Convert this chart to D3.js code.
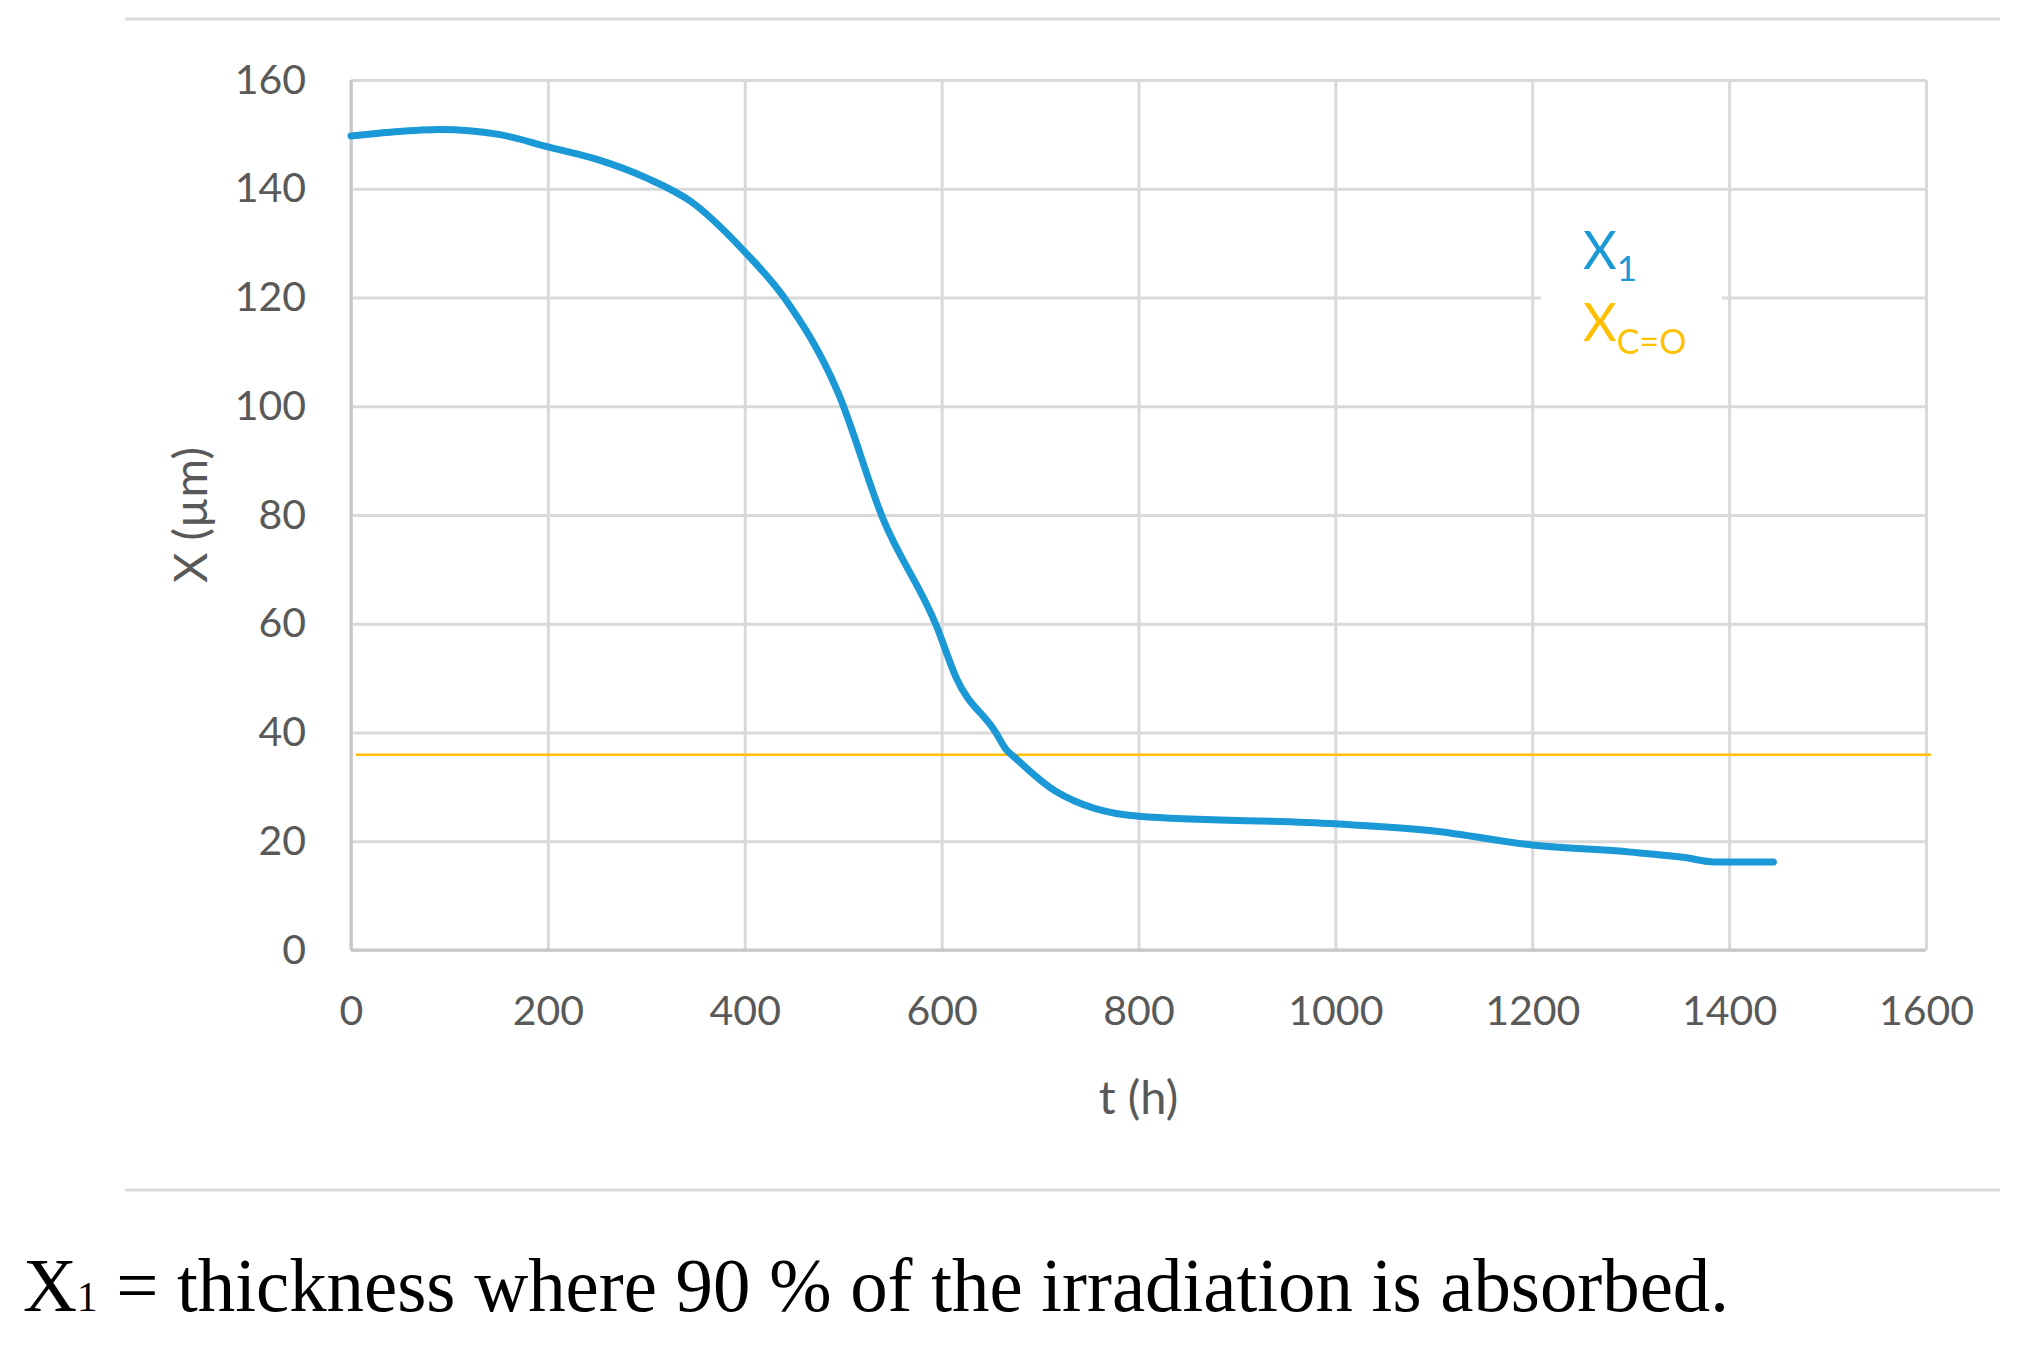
<!DOCTYPE html>
<html>
<head>
<meta charset="utf-8">
<script src="https://cdn.jsdelivr.net/npm/d3@7"></script>
<style>
  html, body { margin: 0; padding: 0; background: #fff; }
  .tick text { font-family: Lato, "Open Sans", sans-serif; fill: #595959; }
</style>
</head>
<body>
<div id="chart"></div>
<script>
// X1 curve (t in hours, X in µm)
var tHours = [0, 40, 90, 150, 200, 250, 300, 345, 400, 440, 495, 540, 595, 615, 655, 665, 675, 715, 800, 1000, 1100, 1200, 1300, 1355, 1385, 1445];
var x1Values = [149.7, 150.4, 150.9, 150, 147.7, 145.4, 142, 137.7, 128.4, 120, 102.4, 79.5, 59.5, 50, 40, 37, 35.3, 29.3, 24.6, 23.2, 21.9, 19.3, 18, 17, 16.2, 16.2];

// X C=O level
var tCO = [5, 1605];
var xCOValues = [35.9, 35.9];

var xTicks = [0, 200, 400, 600, 800, 1000, 1200, 1400, 1600];
var yTicks = [0, 20, 40, 60, 80, 100, 120, 140, 160];

var W = 2035, H = 1350;
var margin = {top: 80, right: W - 1926, bottom: H - 950, left: 351};
var width = W - margin.left - margin.right;
var height = H - margin.top - margin.bottom;

var blue = "#1b98d6", yellow = "#ffc000", grid = "#d9d9d9", txt = "#595959";

var svg = d3.select("#chart").append("svg")
	.attr("width", W)
	.attr("height", H);

// frame rules above and below the chart
svg.append("line").attr("x1", 125).attr("x2", 2000).attr("y1", 19).attr("y2", 19)
	.attr("stroke", "#dcdcdc").attr("stroke-width", 3);
svg.append("line").attr("x1", 125).attr("x2", 2000).attr("y1", 1190).attr("y2", 1190)
	.attr("stroke", "#dcdcdc").attr("stroke-width", 3);

var g = svg.append("g")
	.attr("transform", "translate(" + margin.left + "," + margin.top + ")");

var x = d3.scaleLinear().domain([0, 1600]).range([0, width]);
var y = d3.scaleLinear().domain([0, 160]).range([height, 0]);

// grid
g.append("g")
	.attr("transform", "translate(0," + height + ")")
	.call(d3.axisBottom(x).tickValues(xTicks).tickSize(-height).tickFormat(""))
	.call(function(s) { s.select(".domain").remove(); })
	.selectAll("line").attr("stroke", grid).attr("stroke-width", 3);

g.append("g")
	.call(d3.axisLeft(y).tickValues(yTicks).tickSize(-width).tickFormat(""))
	.call(function(s) { s.select(".domain").remove(); })
	.selectAll("line").attr("stroke", grid).attr("stroke-width", 3);

// axis lines
g.append("line").attr("x1", 0).attr("x2", 0).attr("y1", 0).attr("y2", height)
	.attr("stroke", "#c8c8c8").attr("stroke-width", 3);
g.append("line").attr("x1", 0).attr("x2", width).attr("y1", height).attr("y2", height)
	.attr("stroke", "#c8c8c8").attr("stroke-width", 3);

// tick labels
var xAxis = g.append("g")
	.attr("transform", "translate(0," + height + ")")
	.call(d3.axisBottom(x).tickValues(xTicks).tickSize(0).tickPadding(75).tickFormat(d3.format("d")));
xAxis.select(".domain").remove();
xAxis.selectAll("text").attr("font-size", 41).attr("dy", 0);

var yAxis = g.append("g")
	.call(d3.axisLeft(y).tickValues(yTicks).tickSize(0).tickPadding(45));
yAxis.select(".domain").remove();
yAxis.selectAll("text").attr("font-size", 41);

// legend box (hides grid behind it)
g.append("rect")
	.attr("x", 1541 - margin.left).attr("y", 218 - margin.top)
	.attr("width", 181).attr("height", 150)
	.attr("fill", "#fff");

// series
var line = d3.line()
	.x(function(d) { return x(d[0]); })
	.y(function(d) { return y(d[1]); });

g.append("path")
	.datum(d3.zip(tCO, xCOValues))
	.attr("fill", "none")
	.attr("stroke", yellow)
	.attr("stroke-width", 2.5)
	.attr("d", line);

g.append("path")
	.datum(d3.zip(tHours, x1Values))
	.attr("fill", "none")
	.attr("stroke", blue)
	.attr("stroke-width", 7)
	.attr("stroke-linecap", "round")
	.attr("stroke-linejoin", "round")
	.attr("d", line.curve(d3.curveMonotoneX));

// legend
var leg1 = svg.append("text")
	.attr("x", 1583).attr("y", 269)
	.attr("font-family", "Lato, 'Open Sans', sans-serif")
	.attr("font-size", 52)
	.attr("fill", blue);
leg1.append("tspan").text("X");
leg1.append("tspan").attr("font-size", 35).attr("dy", 12).text("1");

var leg2 = svg.append("text")
	.attr("x", 1583).attr("y", 341)
	.attr("font-family", "Lato, 'Open Sans', sans-serif")
	.attr("font-size", 52)
	.attr("fill", yellow);
leg2.append("tspan").text("X");
leg2.append("tspan").attr("font-size", 34).attr("dy", 13).text("C=O");

// axis titles
svg.append("text")
	.attr("x", margin.left + width / 2).attr("y", 1114)
	.attr("text-anchor", "middle")
	.attr("font-family", "Lato, 'Open Sans', sans-serif")
	.attr("font-size", 47)
	.attr("fill", txt)
	.text("t (h)");

svg.append("text")
	.attr("transform", "translate(207," + (margin.top + height / 2) + ") rotate(-90)")
	.attr("text-anchor", "middle")
	.attr("font-family", "Lato, 'Open Sans', sans-serif")
	.attr("font-size", 47)
	.attr("fill", txt)
	.text("X (µm)");

// caption
var cap = svg.append("text")
	.attr("x", 23).attr("y", 1311)
	.attr("font-family", "'Liberation Serif', 'Times New Roman', serif")
	.attr("font-size", 77)
	.attr("fill", "#000")
	.attr("textLength", 1706)
	.attr("lengthAdjust", "spacingAndGlyphs");
cap.append("tspan").text("X");
cap.append("tspan").attr("font-size", 42).text("1");
cap.append("tspan").text(" = thickness where 90 % of the irradiation is absorbed.");
</script>
</body>
</html>
